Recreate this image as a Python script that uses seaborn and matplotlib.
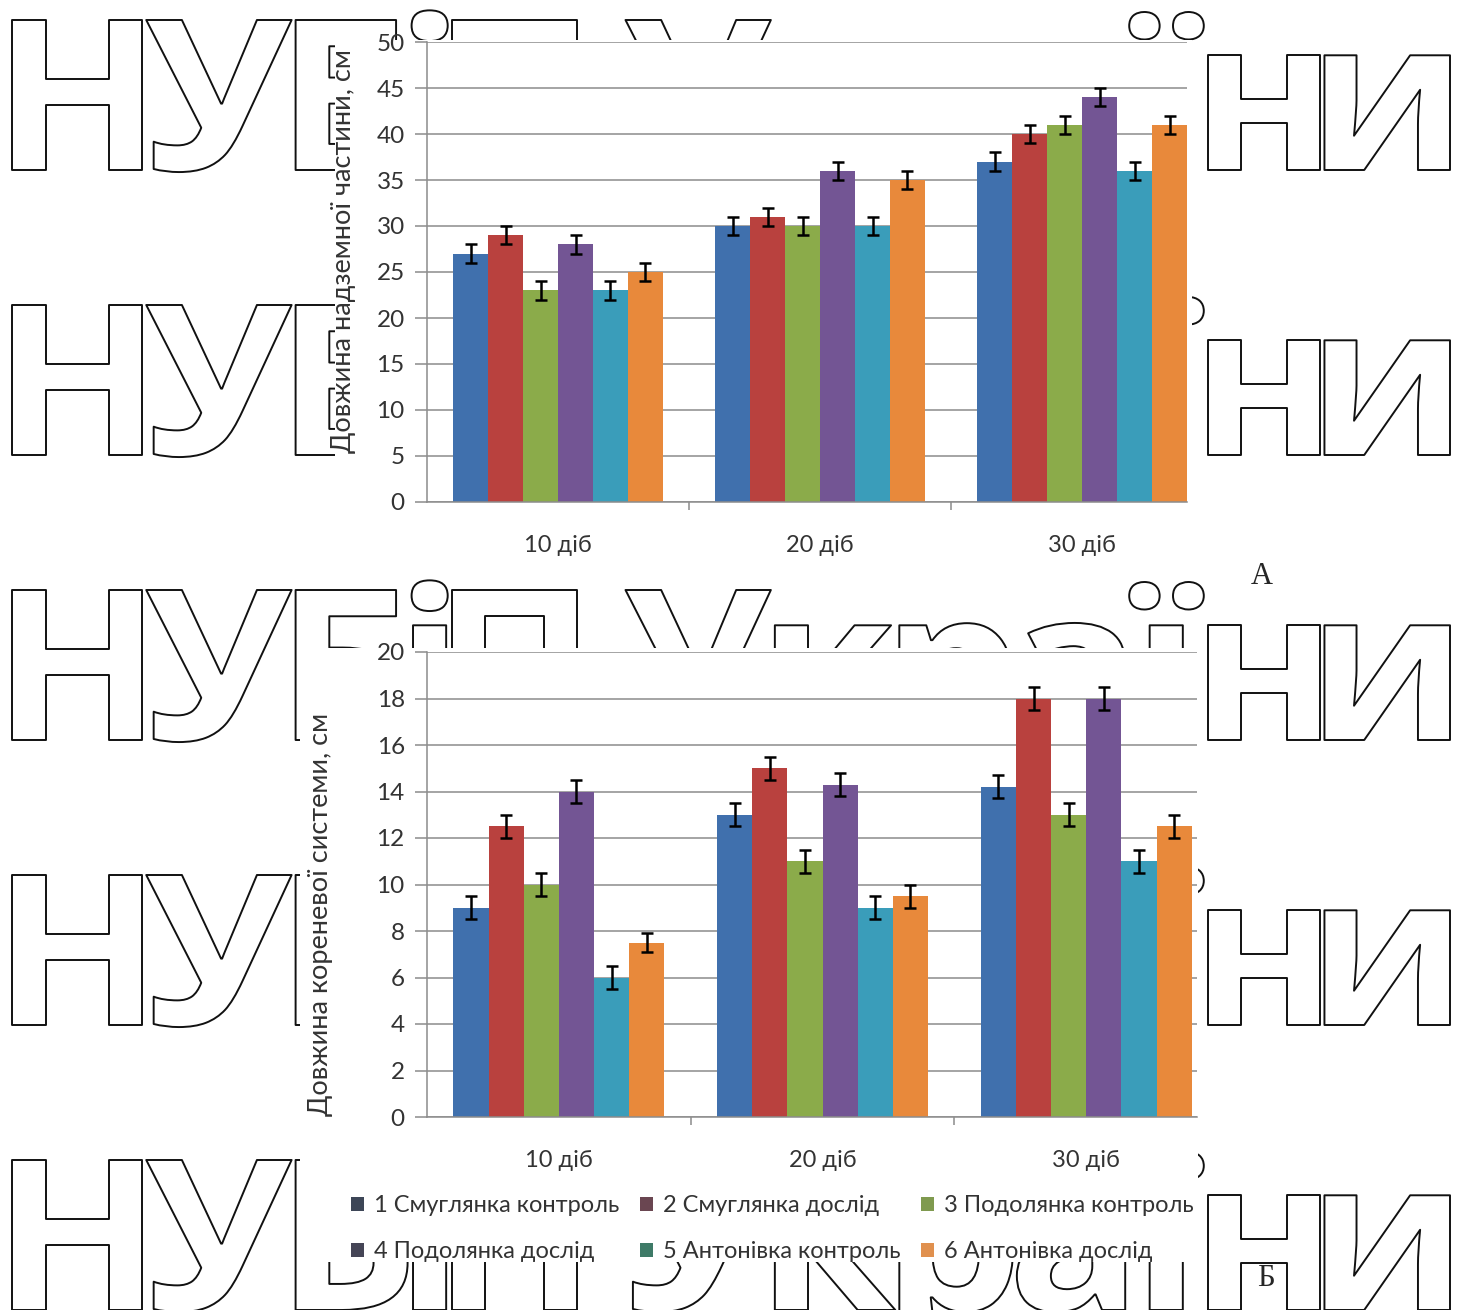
import matplotlib
matplotlib.use("Agg")
import matplotlib.pyplot as plt
import seaborn as sns
import pandas as pd
import numpy as np
from matplotlib.textpath import TextPath
from matplotlib.patches import PathPatch, Rectangle, Patch
from matplotlib.font_manager import FontProperties, fontManager
from matplotlib.transforms import Affine2D

# ---------------- data ----------------
periods = ["10 діб", "20 діб", "30 діб"]
series = ["1 Смуглянка контроль", "2 Смуглянка дослід", "3 Подолянка контроль",
          "4 Подолянка дослід", "5 Антонівка контроль", "6 Антонівка дослід"]

# A: довжина надземної частини, см (per period, series 1..6)
shoot_10 = [27, 29, 23, 28, 23, 25]
shoot_20 = [30, 31, 30, 36, 30, 35]
shoot_30 = [37, 40, 41, 44, 36, 41]
shoot_err_10 = [1, 1, 1, 1, 1, 1]
shoot_err_20 = [1, 1, 1, 1, 1, 1]
shoot_err_30 = [1, 1, 1, 1, 1, 1]

# Б: довжина кореневої системи, см
root_10 = [9, 12.5, 10, 14, 6, 7.5]
root_20 = [13, 15, 11, 14.3, 9, 9.5]
root_30 = [14.2, 18, 13, 18, 11, 12.5]
root_err_10 = [0.5, 0.5, 0.5, 0.5, 0.5, 0.4]
root_err_20 = [0.5, 0.5, 0.5, 0.5, 0.5, 0.5]
root_err_30 = [0.5, 0.5, 0.5, 0.5, 0.5, 0.5]

bar_colors = ["#4070ad", "#b9413e", "#8bab4a", "#735594", "#3a9dba", "#e8893b"]
legend_colors = ["#3d4657", "#6a4651", "#7f9a4f", "#454556", "#3e7a67", "#e0904e"]

W, H = 1464, 1310

# ---------------- style ----------------
sns.set_style("white")
names = {f.name for f in fontManager.ttflist}
main_font = ["Lato", "Open Sans", "DejaVu Sans"]
legend_font = [f for f in ["Liberation Sans Narrow", "Lato", "DejaVu Sans"] if f in names] or ["DejaVu Sans"]
wm_family = "Open Sans" if "Open Sans" in names else "DejaVu Sans"
plt.rcParams["font.family"] = main_font

fig = plt.figure(figsize=(W / 100, H / 100), dpi=100)
fig.patch.set_facecolor("white")


def px(x0, y0, x1, y1):
    """pixel box (from top-left) -> figure fraction rect"""
    return [x0 / W, 1 - y1 / H, (x1 - x0) / W, (y1 - y0) / H]


# ---------------- watermark ----------------
def watermark():
    fp = FontProperties(family=wm_family, weight="bold")
    text = "НУБіП України"
    cap = TextPath((0, 0), "Н", size=1, prop=fp).get_extents().ymax
    s = 150 / cap
    glyphs = []
    for ch in text:
        if ch == " ":
            glyphs.append(None)
            continue
        p = TextPath((0, 0), ch, size=1, prop=fp)
        glyphs.append((p, p.get_extents()))
    ink = sum((e.xmax - e.xmin) * s for g in glyphs if g for e in [g[1]])
    space_w = 40
    gap = 4
    sx = (1438 - space_w - gap * (len(text) - 1)) / ink
    for base_top in [170, 455, 740, 1025, 1310]:
        b = H - base_top
        x = 12
        for g in glyphs:
            if g is None:
                x += space_w + gap
                continue
            p, e = g
            wdt = (e.xmax - e.xmin) * s * sx
            tr = (Affine2D().translate(-e.xmin, 0).scale(s * sx, s)
                  .translate(x, b).scale(1 / W, 1 / H) + fig.transFigure)
            patch = PathPatch(p, facecolor="none", edgecolor="#111111",
                              lw=1.4, joinstyle="round", transform=tr, zorder=-3)
            fig.add_artist(patch)
            x += wdt + gap


watermark()
for box in [(335, 40, 1192, 562), (300, 648, 1198, 1262)]:
    r = Rectangle((box[0] / W, 1 - box[3] / H), (box[2] - box[0]) / W,
                  (box[3] - box[1]) / H, transform=fig.transFigure,
                  facecolor="white", edgecolor="none", zorder=-2)
    fig.add_artist(r)


# ---------------- charts ----------------
def make_df(vals_by_period, errs_by_period):
    rows = []
    for p, vals, errs in zip(periods, vals_by_period, errs_by_period):
        for s_, v, e in zip(series, vals, errs):
            rows.append({"period": p, "series": s_, "value": v, "err": e})
    return pd.DataFrame(rows)


def draw(ax, df, ymax, ystep, ylabel, xright, lab_xy):
    sns.barplot(data=df, x="period", y="value", hue="series", order=periods,
                hue_order=series, palette=bar_colors, errorbar=None, ax=ax,
                width=0.8, saturation=1, linewidth=0, legend=False, zorder=2)
    for cont, s_ in zip(ax.containers, series):
        sub = df[df["series"] == s_].set_index("period").loc[periods]
        xs = [b.get_x() + b.get_width() / 2 for b in cont]
        ys = [b.get_height() for b in cont]
        ax.errorbar(xs, ys, yerr=sub["err"].values, fmt="none", ecolor="black",
                    elinewidth=1.8, capsize=4.5, capthick=1.8, zorder=3)
    ax.set_ylim(0, ymax)
    ax.set_yticks(np.arange(0, ymax + 0.01, ystep))
    ax.set_xlim(-0.5, xright)
    ax.yaxis.grid(True, color="#8c8c8c", lw=1.1)
    ax.set_axisbelow(True)
    for sp in ["top", "right"]:
        ax.spines[sp].set_visible(False)
    for sp in ["left", "bottom"]:
        ax.spines[sp].set_color("#8c8c8c")
        ax.spines[sp].set_linewidth(1.1)
    ax.tick_params(axis="y", length=9, width=1.1, color="#8c8c8c", pad=7,
                   labelsize=17.5, labelcolor="#333333", left=True)
    ax.set_xticks([0, 1, 2])
    ax.set_xticklabels(periods)
    ax.tick_params(axis="x", which="major", length=0, pad=24, labelsize=17,
                   labelcolor="#333333")
    ax.set_xticks([0.5, 1.5], minor=True)
    ax.tick_params(axis="x", which="minor", length=6, width=1.1,
                   color="#8c8c8c", bottom=True)
    ax.set_xlabel("")
    ax.set_ylabel(ylabel, fontsize=19.5, color="#333333")
    ax.yaxis.set_label_coords(*lab_xy)
    ax.set_facecolor("white")


ax1 = fig.add_axes(px(427, 42, 1187, 502))
draw(ax1, make_df([shoot_10, shoot_20, shoot_30],
                  [shoot_err_10, shoot_err_20, shoot_err_30]),
     50, 5, "Довжина надземної частини, см", 2.4, (-0.094, 0.545))

ax2 = fig.add_axes(px(427, 652, 1197, 1117))
draw(ax2, make_df([root_10, root_20, root_30],
                  [root_err_10, root_err_20, root_err_30]),
     20, 2, "Довжина кореневої системи, см", 2.42, (-0.122, 0.435))

# ---------------- legend ----------------
handles = [Patch(facecolor=c, edgecolor="none") for c in legend_colors]
order = [0, 3, 1, 4, 2, 5]
leg = fig.legend([handles[i] for i in order], [series[i] for i in order],
                 loc="upper left", bbox_to_anchor=(330 / W, 1 - 1174 / H),
                 ncol=3, frameon=False, handlelength=0.55, handleheight=0.55,
                 handletextpad=0.4, columnspacing=0.9, labelspacing=1.05,
                 prop=FontProperties(family=legend_font, size=17))
for t in leg.get_texts():
    t.set_color("#333333")

fig.text(1262 / W, 1 - 577 / H, "А", ha="center", va="center",
         family=["Liberation Serif", "DejaVu Serif"], fontsize=22)
fig.text(1266 / W, 1 - 1278 / H, "Б", ha="center", va="center",
         family=["Liberation Serif", "DejaVu Serif"], fontsize=22)

fig.savefig("out.png", dpi=100, facecolor="white")
